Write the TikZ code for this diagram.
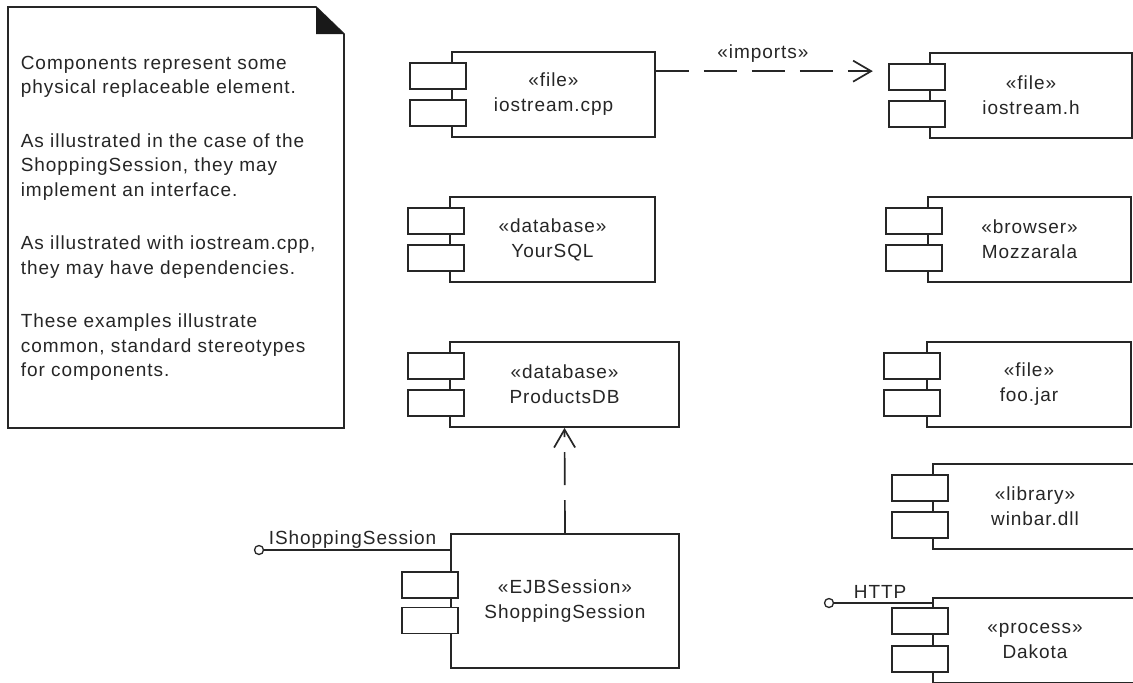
\documentclass[tikz,border=0pt]{standalone}
\usepackage{fontspec}
\setmainfont{Liberation Sans}[LetterSpace=5]
\usetikzlibrary{arrows.meta,calc}
\begin{document}
\begin{tikzpicture}[x=1pt,y=-1pt,
  line width=1.7pt,
  txt/.style={text=black!85, font=\fontsize{19}{25}\selectfont, inner sep=0pt},
  box/.style={txt, draw=black!85, fill=white, rectangle, minimum height=85pt, align=center},
  port/.style={draw=black!85, fill=white, rectangle, minimum width=56pt, minimum height=26pt, inner sep=0pt},
  dep/.style={draw=black!85, dash pattern=on 33pt off 15pt, -{Straight Barb[length=18pt,width=21pt]}},
  lolli/.style={circle, draw=black!85, fill=white, minimum size=9pt, inner sep=0pt, line width=1.3pt},
  notebox/.style={draw=black!85, fill=white, line join=miter}
]
\fill[white] (0,0) rectangle (1133,683);
\useasboundingbox (0,0) rectangle (1133,683);

% note
\draw[notebox] (8,7) -- (316,7) -- (344,34) -- (344,428) -- (8,428) -- cycle;
\fill[black!90] (316,7) -- (316,34) -- (344,34) -- cycle;
\node[txt, anchor=north west, align=left, font=\fontsize{19}{24.5}\selectfont] (notetext) at (20,55)
 {Components represent some\\physical replaceable element.\\[29pt]%
  As illustrated in the case of the\\ShoppingSession, they may\\implement an interface.\\[29pt]%
  As illustrated with iostream.cpp,\\they may have dependencies.\\[29pt]%
  These examples illustrate\\common, standard stereotypes\\for components.};

% components
\node[box, minimum width=203pt] (cpp) at (553.5,94.5) {«file»\\iostream.cpp};
\node[port] (cpp1) at ($(cpp.west)+(-13,-18.5)$) {};
\node[port] (cpp2) at ($(cpp.west)+(-13,18.5)$) {};

\node[box, minimum width=202pt] (h) at (1031,95.5) {«file»\\iostream.h};
\node[port] (h1) at ($(h.west)+(-12.5,-18.5)$) {};
\node[port] (h2) at ($(h.west)+(-12.5,18.5)$) {};

\node[box, minimum width=205pt] (ysql) at (552.5,239.5) {«database»\\YourSQL};
\node[port] (ysql1) at ($(ysql.west)+(-13,-18.5)$) {};
\node[port] (ysql2) at ($(ysql.west)+(-13,18.5)$) {};

\node[box, minimum width=203pt] (moz) at (1029.5,239.5) {«browser»\\Mozzarala};
\node[port] (moz1) at ($(moz.west)+(-13.5,-18.5)$) {};
\node[port] (moz2) at ($(moz.west)+(-13.5,18.5)$) {};

\node[box, minimum width=229pt] (pdb) at (564.5,384.5) {«database»\\ProductsDB};
\node[port] (pdb1) at ($(pdb.west)+(-13.5,-18.5)$) {};
\node[port] (pdb2) at ($(pdb.west)+(-13.5,18.5)$) {};

\node[box, minimum width=204pt] (foo) at (1029,384.5) {«file»\\foo.jar};
\node[port] (foo1) at ($(foo.west)+(-14,-18.5)$) {};
\node[port] (foo2) at ($(foo.west)+(-14,18.5)$) {};

\node[box, minimum width=204pt] (win) at (1035,506.5) {«library»\\winbar.dll};
\node[port] (win1) at ($(win.west)+(-12.5,-18.5)$) {};
\node[port] (win2) at ($(win.west)+(-12.5,18.5)$) {};

\node[box, minimum width=228pt, minimum height=134pt] (ss) at (565,601) {«EJBSession»\\ShoppingSession};
\node[port] (ss1) at ($(ss.west)+(-20.5,-16)$) {};
\node[port] (ss2) at ($(ss.west)+(-20.5,19.5)$) {};

\node[box, minimum width=204pt] (dak) at (1035,640.5) {«process»\\Dakota};
\node[port] (dak1) at ($(dak.west)+(-12.5,-19.5)$) {};
\node[port] (dak2) at ($(dak.west)+(-12.5,18.5)$) {};

% dependencies
\coordinate (a1) at ([yshift=-20pt]cpp.north east);
\draw[dep, shorten >=15pt] (a1) -- (a1 -| h1.west);
\node[txt, anchor=base] (implbl) at (763,58) {«imports»};
\draw[dep] (ss.north) -- (pdb.south);

% interfaces
\node[lolli] (iss) at (259,550) {};
\draw[draw=black!85] (iss) -- (iss -| ss.west);
\node[txt, anchor=base west] (isslbl) at (268,544) {IShoppingSession};

\node[lolli] (http) at (829,603) {};
\draw[draw=black!85] (http) -- (http -| dak.west);
\node[txt, anchor=base west] (httplbl) at (853,598) {HTTP};
\end{tikzpicture}
\end{document}
